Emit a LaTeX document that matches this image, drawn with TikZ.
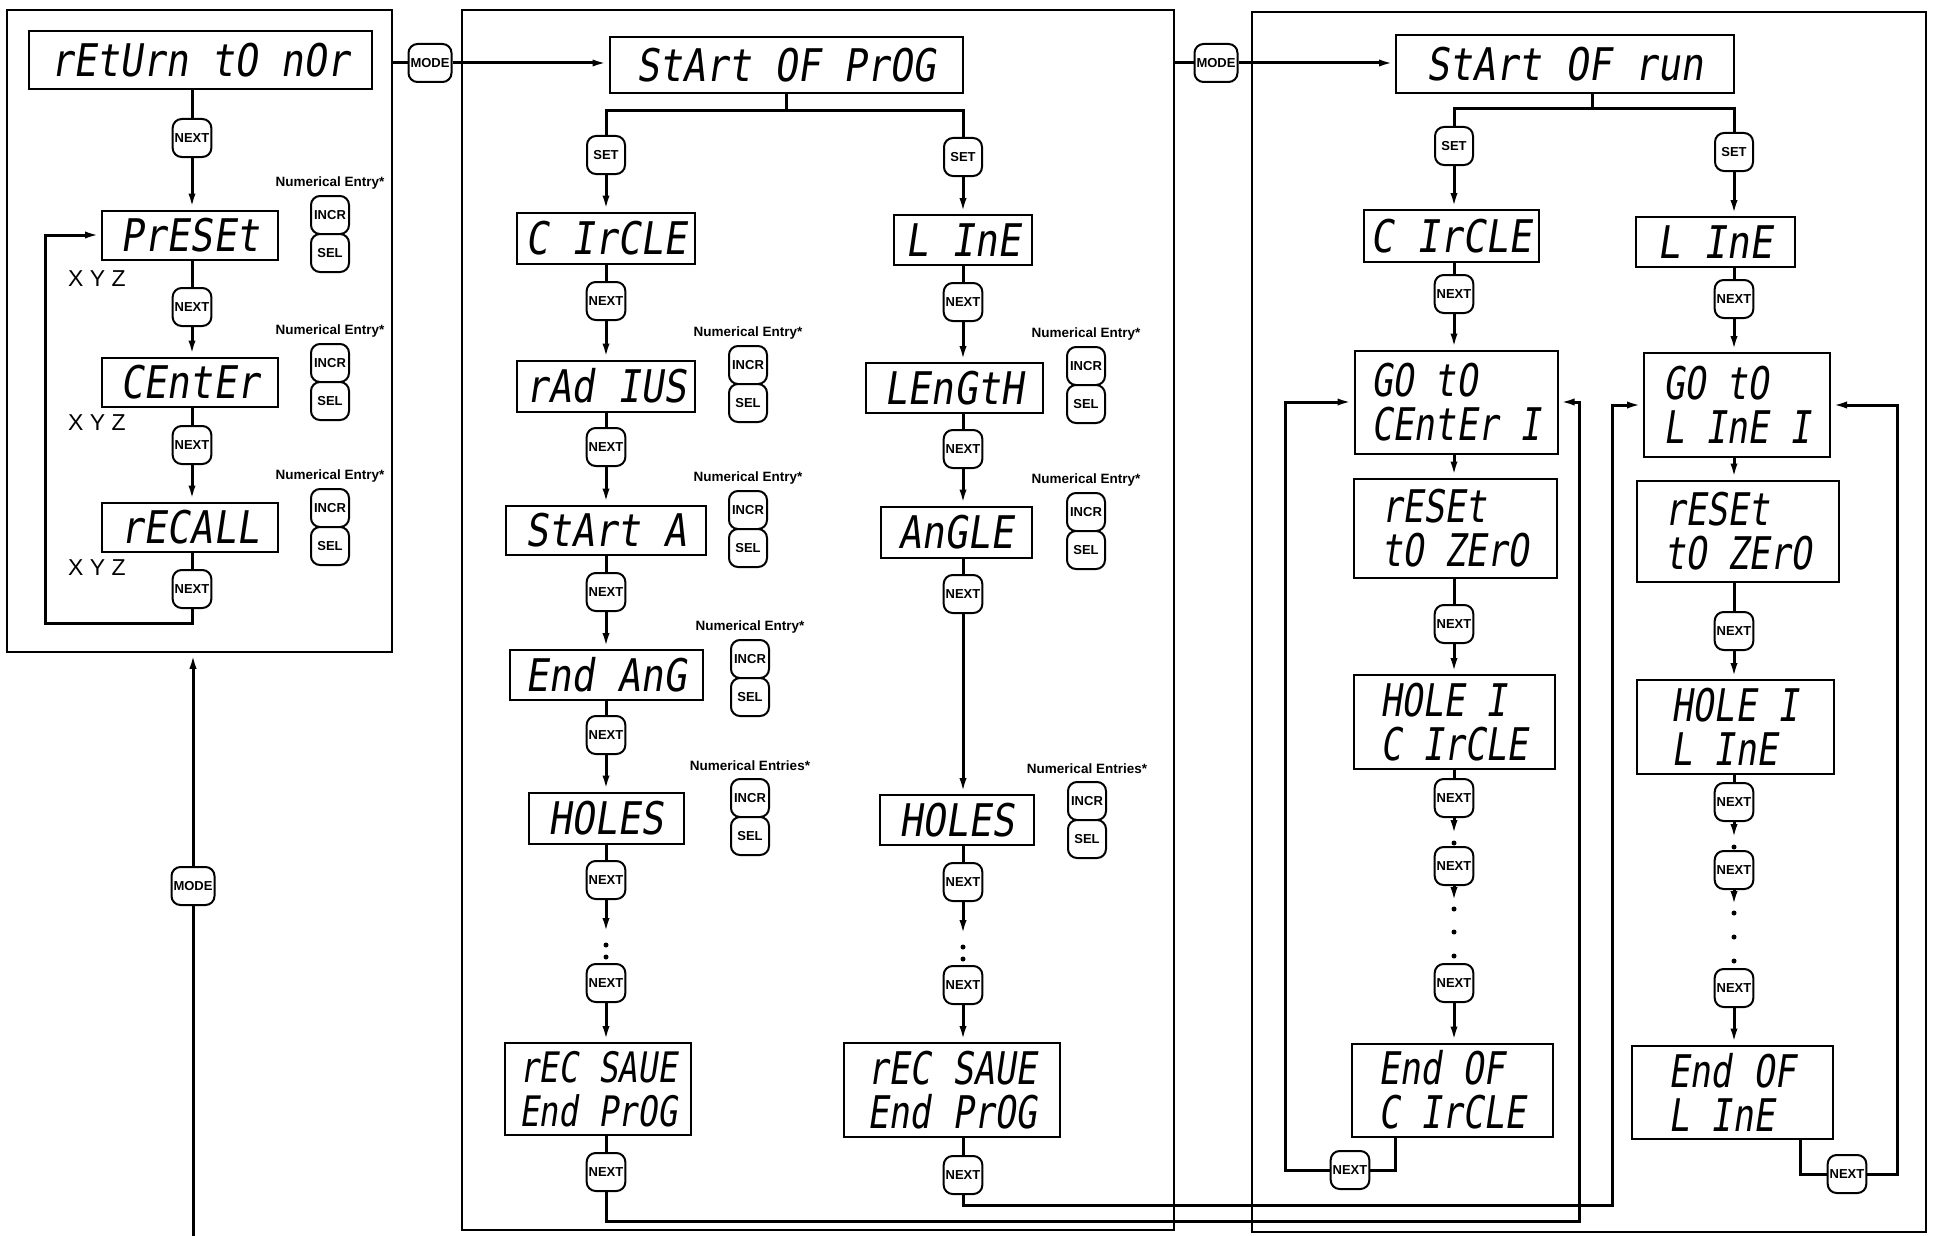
\documentclass[tikz,border=0pt]{standalone}
\usepackage{fontspec}
\usetikzlibrary{arrows.meta}
\newfontfamily\segfont[FakeSlant=0.15,FakeStretch=0.85]{DejaVu Sans Mono}
\newfontfamily\segnarrow[FakeSlant=0.15,FakeStretch=0.78]{DejaVu Sans Mono}
\newfontfamily\lsans{Liberation Sans}
\newcommand\numentry[4]{%
  \node[nelab] (#1lab) at (#2,#3) {#4};
  \node[btn] (#1inc) at (#2,#3+32) {INCR};
  \node[btn] (#1sel) at (#2,#3+70) {SEL};
}
\begin{document}
\begin{tikzpicture}[x=1pt,y=-1pt,
  conn/.style={line width=3pt},
  arr/.style={line width=3pt,-{Latex[length=16pt,width=7pt]}},
  panel/.style={draw,line width=1.6pt,inner sep=0pt},
  disp/.style={draw,line width=2pt,inner sep=0pt,font=\segfont\fontsize{45}{46}\selectfont,align=center},
  dbox/.style 2 args={disp,minimum width=#1pt,minimum height=#2pt},
  dboxx/.style 2 args={disp,align=left,font=\segnarrow\fontsize{45}{44}\selectfont,minimum width=#1pt,minimum height=#2pt},
  btn/.style={draw,line width=2pt,rounded corners=9pt,fill=white,minimum width=38pt,minimum height=38pt,inner sep=2pt,font=\lsans\bfseries\fontsize{13}{13}\selectfont},
  nelab/.style={font=\lsans\bfseries\fontsize{13.5}{15}\selectfont,inner sep=0pt},
  xyz/.style={font=\lsans\fontsize{23}{23}\selectfont,inner sep=0pt},
  dot/.style={circle,fill,inner sep=0pt,minimum size=5pt}
]
\useasboundingbox (0,0) rectangle (1935,1236);
% ---------------- left panel
\node[panel,minimum width=385pt,minimum height=642pt] (pL) at (199.5,331) {};
\node[dbox={343}{58}] (ret) at (200,60) {rEtUrn tO nOr};
\node[btn] (nL1) at (192,138) {NEXT};
\node[dbox={176}{49}] (preset) at (190,235) {PrESEt};
\node[xyz] (xyz1) at (97,279) {X Y Z};
\numentry{eA}{330}{183}{Numerical Entry*}
\node[btn] (nL2) at (192,307) {NEXT};
\node[dbox={176}{49}] (center) at (190,382) {CEntEr};
\numentry{eB}{330}{331}{Numerical Entry*}
\node[xyz] (xyz2) at (97,423) {X Y Z};
\node[btn] (nL3) at (192,445) {NEXT};
\node[dbox={176}{49}] (recall) at (190,527) {rECALL};
\numentry{eC}{330}{476}{Numerical Entry*}
\node[xyz] (xyz3) at (97,568) {X Y Z};
\node[btn] (nL4) at (192,589) {NEXT};
\coordinate (loopL) at (45,623);
\draw[conn] (ret.south -| nL1) -- (nL1);
\draw[arr] (nL1) -- (nL1 |- preset.north);
\draw[conn] (preset.south -| nL2) -- (nL2);
\draw[arr] (nL2) -- (nL2 |- center.north);
\draw[conn] (center.south -| nL3) -- (nL3);
\draw[arr] (nL3) -- (nL3 |- recall.north);
\draw[conn] (recall.south -| nL4) -- (nL4);
\draw[arr] (nL4) |- (loopL) |- (preset.west);
\node[btn] (modeB) at (193,886) {MODE};
\coordinate (botL) at (193,1240);
\draw[conn] (botL) -- (modeB);
\draw[arr] (modeB) -- (modeB |- pL.south);
% ---------------- middle panel
\node[panel,minimum width=712pt,minimum height=1220pt] (pM) at (818,620) {};
\node[dbox={353}{56}] (prog) at (786,65) {StArt OF PrOG};
\node[btn] (mode1) at (430,63) {MODE};
\draw[conn] (mode1 -| pL.east) -- (mode1);
\draw[arr] (mode1) -- (mode1 -| prog.west);
\coordinate (brM) at (786,111);
\node[btn] (sM1) at (606,155) {SET};
\node[btn] (sM2) at (963,157) {SET};
\draw[conn] (prog) -- (brM);
\draw[conn] (sM1) |- (brM) -| (sM2);
\node[dbox={178}{51}] (circM) at (606,238) {C IrCLE};
\node[dbox={138}{50}] (lineM) at (963,240) {L InE};
\draw[arr] (sM1) -- (circM);
\draw[arr] (sM2) -- (lineM);
\node[btn] (nM1) at (606,301) {NEXT};
\node[btn] (nM2) at (963,302) {NEXT};
\node[dbox={178}{51}] (radius) at (606,386) {rAd IUS};
\node[dbox={177}{50}] (length) at (954,388) {LEnGtH};
\numentry{eD}{748}{333}{Numerical Entry*}
\numentry{eE}{1086}{334}{Numerical Entry*}
\node[btn] (nM3) at (606,447) {NEXT};
\node[btn] (nM4) at (963,449) {NEXT};
\node[dbox={200}{49}] (startA) at (606,530) {StArt A};
\node[dbox={151}{51}] (angle) at (956,532) {AnGLE};
\numentry{eF}{748}{478}{Numerical Entry*}
\numentry{eG}{1086}{480}{Numerical Entry*}
\node[btn] (nM5) at (606,592) {NEXT};
\node[btn] (nM6) at (963,594) {NEXT};
\node[dbox={193}{50}] (endang) at (606,675) {End AnG};
\numentry{eH}{750}{627}{Numerical Entry*}
\node[btn] (nM7) at (606,735) {NEXT};
\node[dbox={155}{51}] (holesL) at (606,818) {HOLES};
\node[dbox={154}{50}] (holesR) at (957,820) {HOLES};
\numentry{eI}{750}{766}{Numerical Entries*}
\numentry{eJ}{1087}{769}{Numerical Entries*}
\node[btn] (nM8) at (606,880) {NEXT};
\node[btn] (nM9) at (963,882) {NEXT};
\coordinate (aM8) at (606,934);
\coordinate (aM9) at (963,936);
\node[dot] (dM1) at (606,945) {};
\node[dot] (dM2) at (606,957) {};
\node[dot] (dM3) at (963,947) {};
\node[dot] (dM4) at (963,959) {};
\node[btn] (nM10) at (606,983) {NEXT};
\node[btn] (nM11) at (963,985) {NEXT};
\node[dboxx={186}{92},font=\segnarrow\fontsize{42}{44}\selectfont] (recL) at (598,1089) {rEC SAUE\\End PrOG};
\node[dboxx={216}{94}] (recR) at (952,1090) {rEC SAUE\\End PrOG};
\node[btn] (nM12) at (606,1172) {NEXT};
\node[btn] (nM13) at (963,1175) {NEXT};
\draw[conn] (circM) -- (nM1);
\draw[arr] (nM1) -- (radius);
\draw[conn] (radius) -- (nM3);
\draw[arr] (nM3) -- (startA);
\draw[conn] (startA) -- (nM5);
\draw[arr] (nM5) -- (endang);
\draw[conn] (endang) -- (nM7);
\draw[arr] (nM7) -- (holesL);
\draw[conn] (holesL) -- (nM8);
\draw[arr] (nM8) -- (aM8);
\draw[arr] (nM10) -- (nM10 |- recL.north);
\draw[conn] (recL.south -| nM12) -- (nM12);
\draw[conn] (lineM) -- (nM2);
\draw[arr] (nM2) -- (nM2 |- length.north);
\draw[conn] (length.south -| nM4) -- (nM4);
\draw[arr] (nM4) -- (nM4 |- angle.north);
\draw[conn] (angle.south -| nM6) -- (nM6);
\draw[arr] (nM6) -- (nM6 |- holesR.north);
\draw[conn] (holesR.south -| nM9) -- (nM9);
\draw[arr] (nM9) -- (aM9);
\draw[arr] (nM11) -- (nM11 |- recR.north);
\draw[conn] (recR.south -| nM13) -- (nM13);
% ---------------- right panel
\node[panel,minimum width=674pt,minimum height=1220pt] (pR) at (1589,622) {};
\node[dbox={338}{58}] (run) at (1565,64) {StArt OF run};
\node[btn] (mode2) at (1216,63) {MODE};
\draw[conn] (mode2 -| pM.east) -- (mode2);
\draw[arr] (mode2) -- (mode2 -| run.west);
\coordinate (brR) at (1592,109);
\draw[conn] (run.south -| brR) -- (brR);
\node[btn] (sR1) at (1454,146) {SET};
\node[btn] (sR2) at (1734,152) {SET};
\draw[conn] (sR1) |- (brR) -| (sR2);
\node[dbox={175}{52}] (circR) at (1451,236) {C IrCLE};
\node[dbox={159}{50}] (lineR) at (1715,242) {L InE};
\draw[arr] (sR1) -- (sR1 |- circR.north);
\draw[arr] (sR2) -- (sR2 |- lineR.north);
\node[btn] (nR1) at (1454,294) {NEXT};
\node[btn] (nR2) at (1734,299) {NEXT};
\draw[conn] (circR.south -| nR1) -- (nR1);
\draw[conn] (lineR.south -| nR2) -- (nR2);
\node[dboxx={203}{103}] (gotoC) at (1456,402) {GO tO\\CEntEr I};
\node[dboxx={186}{104}] (gotoL) at (1737,405) {GO tO\\L InE I};
\draw[arr] (nR1) -- (nR1 |- gotoC.north);
\draw[arr] (nR2) -- (nR2 |- gotoL.north);
\node[dboxx={203}{99}] (resetC) at (1455,528) {rESEt\\tO ZErO};
\node[dboxx={202}{101}] (resetL) at (1738,531) {rESEt\\tO ZErO};
\draw[arr] (gotoC.south -| nR1) -- (nR1 |- resetC.north);
\draw[arr] (gotoL.south -| nR2) -- (nR2 |- resetL.north);
\node[btn] (nR3) at (1454,624) {NEXT};
\node[btn] (nR4) at (1734,631) {NEXT};
\draw[conn] (resetC.south -| nR3) -- (nR3);
\draw[conn] (resetL.south -| nR4) -- (nR4);
\node[dboxx={201}{94}] (holeC) at (1454,722) {HOLE I\\C IrCLE};
\node[dboxx={197}{94}] (holeL) at (1735,727) {HOLE I\\L InE};
\draw[arr] (nR3) -- (nR3 |- holeC.north);
\draw[arr] (nR4) -- (nR4 |- holeL.north);
\node[btn] (nR5) at (1454,798) {NEXT};
\node[btn] (nR6) at (1734,802) {NEXT};
\draw[conn] (holeC.south -| nR5) -- (nR5);
\draw[conn] (holeL.south -| nR6) -- (nR6);
\coordinate (aR5) at (1454,836);
\coordinate (aR6) at (1734,840);
\draw[arr] (nR5) -- (aR5);
\draw[arr] (nR6) -- (aR6);
\node[dot] (dR1) at (1454,843) {};
\node[dot] (dR2) at (1734,847) {};
\node[btn] (nR7) at (1454,866) {NEXT};
\node[btn] (nR8) at (1734,870) {NEXT};
\coordinate (aR7) at (1454,903);
\coordinate (aR8) at (1734,907);
\draw[arr] (nR7) -- (aR7);
\draw[arr] (nR8) -- (aR8);
\node[dot] (dR3) at (1454,909) {};
\node[dot] (dR4) at (1454,932) {};
\node[dot] (dR5) at (1454,956) {};
\node[dot] (dR6) at (1734,913) {};
\node[dot] (dR7) at (1734,937) {};
\node[dot] (dR8) at (1734,961) {};
\node[btn] (nR9) at (1454,983) {NEXT};
\node[btn] (nR10) at (1734,988) {NEXT};
\node[dboxx={201}{93}] (endC) at (1452,1090) {End OF\\C IrCLE};
\node[dboxx={201}{93}] (endL) at (1732,1092) {End OF\\L InE};
\draw[arr] (nR9) -- (nR9 |- endC.north);
\draw[arr] (nR10) -- (nR10 |- endL.north);
\node[btn] (nR11) at (1350,1170) {NEXT};
\node[btn] (nR12) at (1847,1174) {NEXT};
\coordinate (exC) at (1395,1170);
\coordinate (lpC) at (1285,1170);
\draw[conn] (endC.south -| exC) -- (exC) -- (nR11);
\draw[arr] (nR11) -- (lpC) |- (gotoC.west);
\coordinate (exL) at (1800,1174);
\coordinate (lpL) at (1897,1174);
\draw[conn] (endL.south -| exL) -- (exL) -- (nR12);
\draw[arr] (nR12) -- (lpL) |- (gotoL.east);
% ---------------- crossing connectors
\coordinate (xC) at (1579,1221);
\coordinate (xL) at (1612,1205);
\draw[arr] (nM12) |- (xC) |- (gotoC.east);
\draw[arr] (nM13) |- (xL) |- (gotoL.west);
\end{tikzpicture}
\end{document}
